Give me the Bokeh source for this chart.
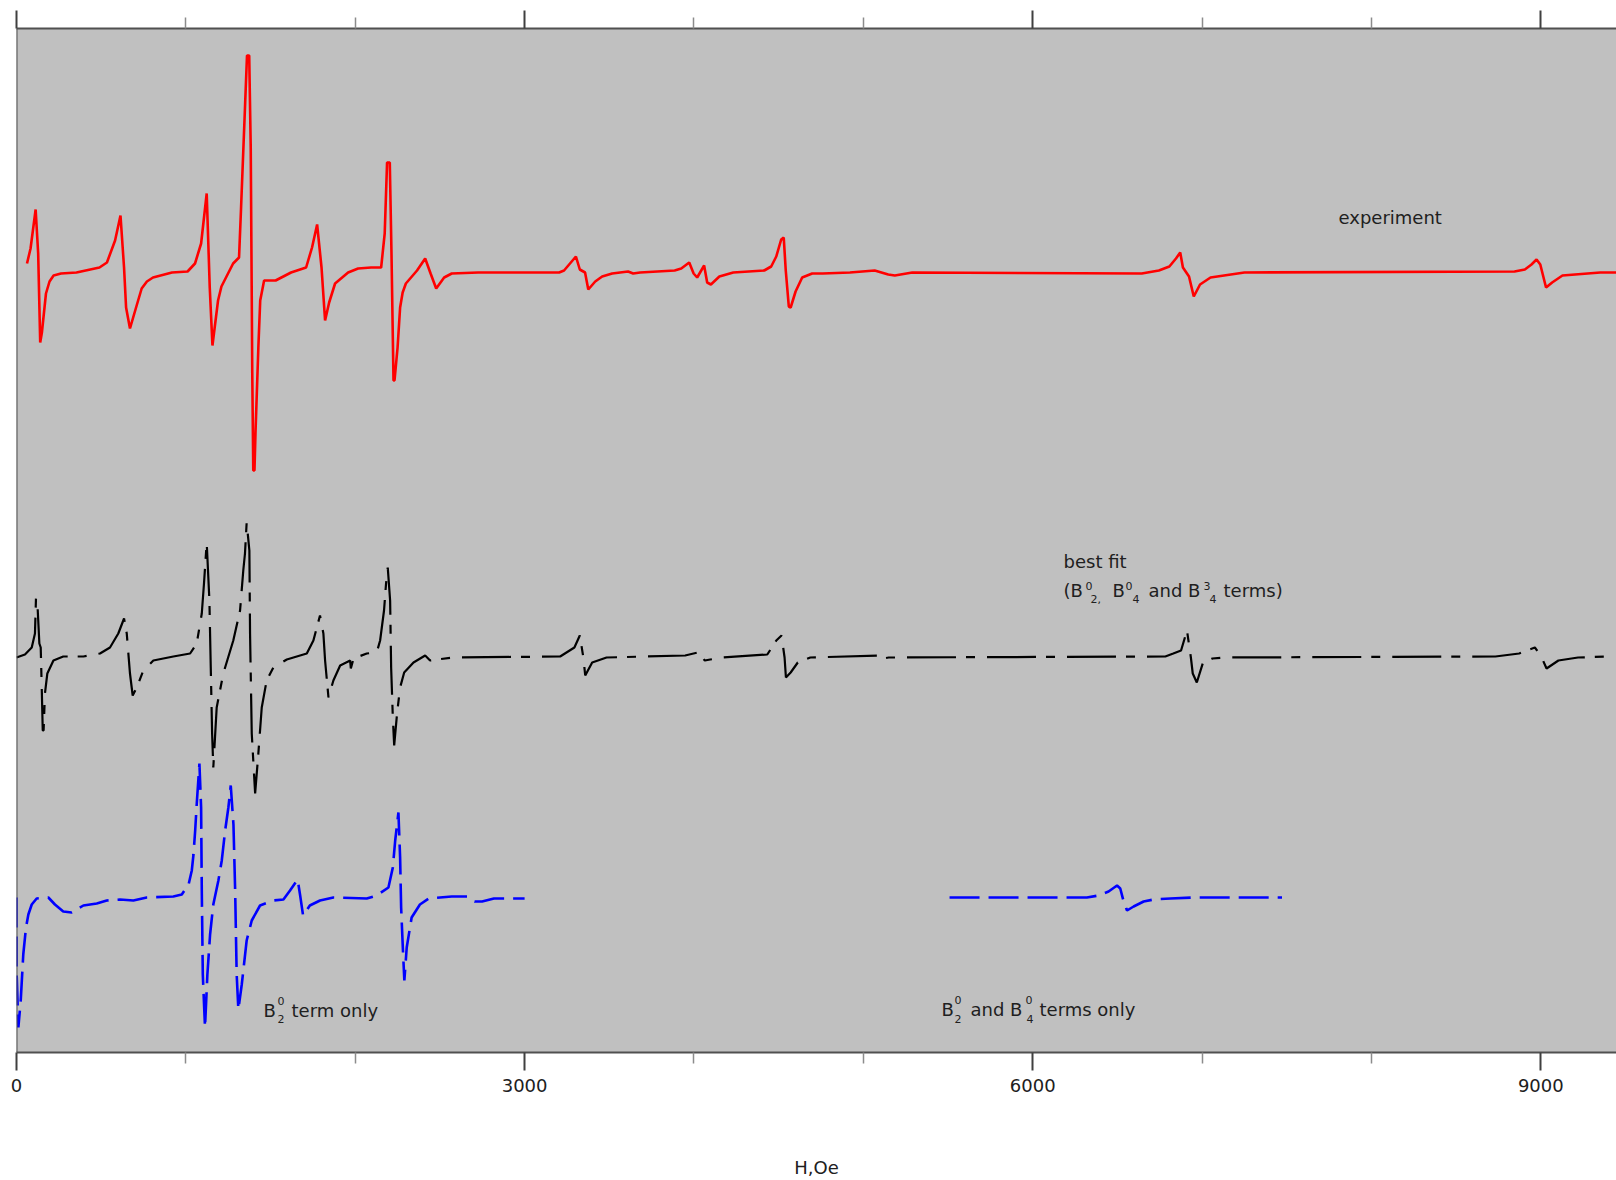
import numpy as np
from bokeh.plotting import figure
from bokeh.models import Range1d, LinearAxis, FixedTicker, Span, CustomJSTickFormatter
from bokeh.core.properties import value
from bokeh.embed import file_html
from bokeh.resources import INLINE

# ---------------- data (field H in Oe, signal in arbitrary units) ----------------
X_MAX = 9447

red_x = [62, 83, 113, 128, 140, 150, 174, 195, 219, 263, 354,
         490, 534, 582, 614, 635, 647, 670, 706, 739, 770, 806,
         918, 1010, 1054, 1090, 1123, 1141, 1157, 1190, 1210, 1237, 1279,
         1314, 1326, 1350, 1361, 1374, 1383, 1392, 1398, 1405, 1411,
         1428, 1439, 1462, 1530, 1621, 1710, 1745, 1775, 1801, 1822,
         1846, 1881, 1958, 2017, 2094, 2153, 2174, 2188, 2204, 2214,
         2226, 2232, 2250, 2265, 2280, 2299, 2365, 2413, 2445, 2478, 2525,
         2570, 2726, 3204, 3233, 3273, 3303, 3326, 3357, 3376, 3417,
         3458, 3517, 3611, 3641, 3682, 3886, 3925, 3972, 3998, 4019,
         4060, 4078, 4100, 4150, 4232, 4415, 4456, 4486, 4515, 4530,
         4542, 4560, 4571, 4600, 4639, 4698, 4760, 4921, 5067, 5147,
         5186, 5289, 6644, 6745, 6807, 6846, 6871, 6887, 6923, 6951,
         6988, 7050, 7250, 8845, 8906, 8945, 8975, 8997, 9031, 9067,
         9128, 9351, 9447]
red_y = [9, 24, 63, 19, -70, -60, -21, -9, -3, -1, 0,
         5, 10, 32, 57, 5, -35, -56, -35, -16, -9, -5,
         0, 1, 9, 29, 79, -15, -73, -28, -14, -5, 9,
         15, 65, 169, 217, 217, 125, -100, -198, -198, -161,
         -75, -28, -8, -8, 0, 5, 25, 48, 5, -48,
         -30, -11, 0, 4, 5, 5, 39, 110, 110, 20,
         -108, -108, -75, -35, -20, -11, 2, 14, -1, -16, -5,
         -1, 0, 0, 2, 10, 16, 3, 0, -17, -9,
         -4, -1, 1, -1, 0, 2, 4, 10, -1, -5,
         7, -10, -12, -4, 0, 2, 6, 16, 33, 35,
         2, -34, -35, -19, -5, -1, -1, 0, 2, -2,
         -3, 0, -1, 2, 6, 14, 20, 5, -4, -24,
         -12, -5, 0, 1, 3, 8, 13, 8, -15, -10,
         -3, 0, 0]

black_x = [0, 50, 90, 109, 115, 122, 135, 143, 149, 155,
           160, 168, 182, 218, 276, 395, 493, 552, 601, 635,
           651, 670, 686, 710, 749, 808, 926, 1025, 1064, 1094,
           1107, 1123, 1139, 1147, 1155, 1162, 1182, 1221, 1280, 1320,
           1339, 1349, 1359, 1375, 1379, 1389, 1409, 1428, 1448, 1477,
           1517, 1596, 1714, 1753, 1792, 1812, 1822, 1842, 1871, 1911,
           1970, 1974, 1990, 2068, 2127, 2147, 2170, 2182, 2192, 2206,
           2212, 2222, 2230, 2247, 2265, 2289, 2344, 2413, 2442, 2481,
           2580, 3210, 3294, 3326, 3347, 3358, 3399, 3484, 3948, 4023,
           4064, 4096, 4170, 4433, 4486, 4517, 4535, 4543, 4571, 4613,
           4687, 5087, 5119, 5150, 6783, 6830, 6876, 6911, 6934, 6945,
           6969, 7004, 7061, 7131, 8732, 8872, 8965, 9000, 9034, 9104,
           9220, 9400]
black_y = [-1, 2, 9, 23, 58, 58, 13, 9, -31, -74,
           -74, -37, -17, -4, 0, 0, 3, 9, 23, 38,
           23, -17, -39, -31, -14, -4, 0, 3, 13, 43,
           73, 114, 56, -11, -77, -111, -51, -17, 16, 46,
           86, 103, 134, 106, 23, -77, -137, -97, -51, -24,
           -11, -3, 3, 16, 41, 23, -4, -41, -24, -9,
           -4, -12, -2, 3, 4, 16, 46, 73, 89, 56,
           -11, -61, -89, -57, -31, -16, -6, 1, -4, -3,
           -1, 0, 9, 21, -1, -19, -6, -1, 1, 4,
           -4, -3, -1, 2, 16, 21, -1, -21, -16, -6,
           -1, 1, -2, -1, 0, 3, 6, 26, -1, -17,
           -26, -7, -2, -1, 0, 3, 9, 1, -12, -4,
           -1, 0]

blue1_x = [0, 1, 11, 25, 40, 56, 70, 90, 119, 188,
           227, 276, 326, 395, 474, 533, 611, 690, 769, 926,
           976, 1016, 1035, 1045, 1055, 1064, 1080, 1090, 1094, 1100,
           1113, 1127, 1143, 1162, 1192, 1212, 1232, 1251, 1265, 1281,
           1291, 1300, 1310, 1330, 1359, 1389, 1438, 1517, 1576, 1615,
           1660, 1674, 1692, 1732, 1792, 1871, 2068, 2127, 2196, 2222,
           2236, 2255, 2265, 2271, 2281, 2290, 2304, 2333, 2382, 2434,
           2570, 2661, 2705, 2749, 2819, 3000]
blue1_y = [0, -77, -130, -103, -57, -30, -17, -7, -1, 0,
           -7, -14, -15, -8, -6, -3, -2, -3, 0, 1,
           3, 13, 27, 43, 67, 93, 134, 90, 7, -77,
           -130, -77, -37, -7, 17, 37, 67, 90, 112, 73,
           7, -77, -112, -87, -43, -23, -8, -3, -2, 7,
           18, 3, -18, -8, -3, 0, -1, 2, 10, 30,
           57, 85, 40, -10, -50, -83, -50, -20, -7, -1,
           1, 1, -4, -4, -1, -1]

blue2_x = [5509, 6320, 6389, 6448, 6498, 6517, 6537, 6557, 6596, 6655, 6714, 6813, 6950, 7472]
blue2_y = [0, 0, 2, 6, 12, 9, -4, -13, -9, -4, -2, -1, 0, 0]

major_ticks = [0, 3000, 6000, 9000]
minor_ticks = [1000, 2000, 4000, 5000, 7000, 8000]

assert len(red_x) == len(red_y)
assert len(black_x) == len(black_y)
assert len(blue1_x) == len(blue1_y)
assert len(blue2_x) == len(blue2_y)

# vertical offsets of the three stacked traces
RED_OFF, BLACK_OFF, BLUE_OFF = 780, 396, 155

# ---------------- figure ----------------
W, H = 1616, 1180
FL, FT, FB = 16, 28, 128
FW, FH = W - FL, H - FT - FB

p = figure(width=W, height=H, x_range=Range1d(0, X_MAX), y_range=Range1d(0, FH),
           output_backend="svg", toolbar_location=None, y_axis_location=None,
           min_border_left=FL, min_border_right=0, min_border_top=FT, min_border_bottom=FB)
p.outline_line_color = None
p.background_fill_color = "#C0C0C0"
p.border_fill_color = "white"
p.grid.visible = False

AX_COL = "#505050"
FONT = "DejaVu Sans"
TXT_COL = "#202020"


def style_axis(ax):
    ax.ticker = FixedTicker(ticks=major_ticks, minor_ticks=minor_ticks)
    ax.axis_line_color = AX_COL
    ax.axis_line_width = 2
    ax.major_tick_in = 0
    ax.major_tick_out = 18
    ax.minor_tick_in = 0
    ax.minor_tick_out = 11
    ax.major_tick_line_color = "#404040"
    ax.major_tick_line_width = 2
    ax.minor_tick_line_color = "#8c8c8c"
    ax.minor_tick_line_width = 1.5


xa = p.xaxis[0]
style_axis(xa)
xa.major_label_text_font = FONT
xa.major_label_text_font_size = "18px"
xa.major_label_text_color = TXT_COL
xa.major_label_standoff = 8
xa.axis_label = "H,Oe"
xa.axis_label_text_font = FONT
xa.axis_label_text_font_size = "18px"
xa.axis_label_text_font_style = "normal"
xa.axis_label_text_color = TXT_COL
xa.axis_label_standoff = 62

top = LinearAxis(formatter=CustomJSTickFormatter(code="return ''"))
style_axis(top)
top.major_label_text_font_size = "0px"
top.major_label_standoff = 0
p.add_layout(top, "above")

p.add_layout(Span(location=0, dimension="height", line_color=AX_COL, line_width=2))

# ---------------- traces ----------------
p.line(red_x, np.array(red_y) + RED_OFF, line_color="#FF0000", line_width=2.6)
p.line(black_x, np.array(black_y) + BLACK_OFF, line_color="black", line_width=2.2,
       line_dash="49 10 9 12")
p.line(blue1_x, np.array(blue1_y) + BLUE_OFF, line_color="#0000FF", line_width=2.6,
       line_dash="30 9")
p.line(blue2_x, np.array(blue2_y) + BLUE_OFF, line_color="#0000FF", line_width=2.6,
       line_dash="30 9")

# ---------------- annotations (positions given in screen pixels) ----------------
def sx(px):
    return (px - FL) * X_MAX / FW


def sy(py):
    return (FT + FH) - py


TXT_SHIFT = 7
main_txt = ["experiment", "best fit", "(B", "B", "and B", "terms)",
            "B", "term only", "B", "and B", "terms only"]
main_px = [1338, 1063, 1063, 1112, 1148, 1223, 263, 291, 941, 970, 1039]
main_py = [224, 568, 597, 597, 597, 597, 1017, 1017, 1016, 1016, 1016]

small_txt = ["0", "2,", "0", "4", "3", "4", "0", "2", "0", "2", "0", "4"]
small_px = [1085, 1090, 1125, 1132, 1203, 1209, 277, 277, 954, 954, 1025, 1026]
small_py = [592, 605, 592, 605, 592, 605, 1007, 1025, 1006, 1025, 1006, 1025]

p.text(x=[sx(v) for v in main_px], y=[sy(v - TXT_SHIFT) for v in main_py], text=main_txt,
       text_font=value(FONT), text_font_size=value("18px"), text_color=TXT_COL,
       text_align="left", text_baseline="alphabetic")
p.text(x=[sx(v) for v in small_px], y=[sy(v - TXT_SHIFT) for v in small_py], text=small_txt,
       text_font=value(FONT), text_font_size=value("11px"), text_color=TXT_COL,
       text_align="left", text_baseline="alphabetic")

open("out.html", "w").write(file_html(p, INLINE))
